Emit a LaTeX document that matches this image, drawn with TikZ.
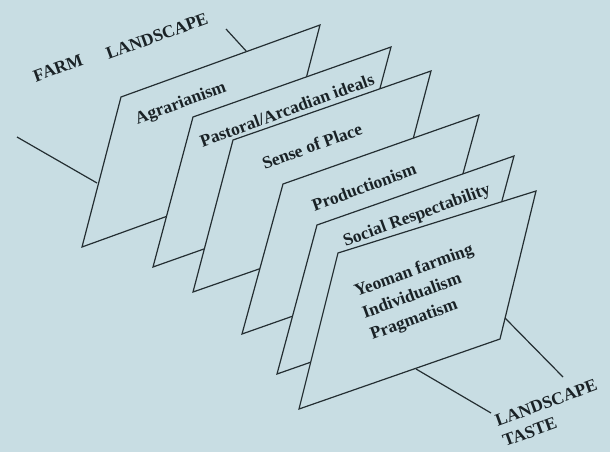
\documentclass[tikz,border=0pt]{standalone}
\usepackage{fontspec}
\setmainfont{Liberation Serif}
\definecolor{bgc}{RGB}{200,221,227}
\definecolor{inkc}{RGB}{36,46,50}
\definecolor{txtc}{RGB}{26,34,38}
\begin{document}
\begin{tikzpicture}[x=1pt,y=-1pt,
  panel/.style={draw=inkc,fill=bgc,line width=1.2pt},
  axisline/.style={draw=inkc,line width=1.2pt},
  lbl/.style={text=txtc,font=\bfseries\fontsize{17.5}{23}\selectfont,rotate=20,inner sep=0pt}]
\fill[bgc] (0,0) rectangle (610,452);
\useasboundingbox (0,0) rectangle (610,452);
% axis end points
\coordinate (a1) at (226,29);  \coordinate (a1e) at (247,52);
\coordinate (c1) at (17,137);  \coordinate (c1e) at (97,183);
% panel 1
\coordinate (p1a) at (121,97); \coordinate (p1b) at (320,25);
\coordinate (p1c) at (281,175); \coordinate (p1d) at (82,247);
\draw[axisline] (a1) -- (a1e);
\draw[axisline] (c1) -- (c1e);
\path[panel] (p1a) -- (p1b) -- (p1c) -- (p1d) -- cycle;
% panel 2
\coordinate (p2a) at (193,117); \coordinate (p2b) at (391,47);
\coordinate (p2c) at (351,197); \coordinate (p2d) at (153,267);
\path[panel] (p2a) -- (p2b) -- (p2c) -- (p2d) -- cycle;
% panel 3
\coordinate (p3a) at (233,140); \coordinate (p3b) at (431,71);
\coordinate (p3c) at (391,223); \coordinate (p3d) at (193,292);
\path[panel] (p3a) -- (p3b) -- (p3c) -- (p3d) -- cycle;
% panel 4
\coordinate (p4a) at (283,184); \coordinate (p4b) at (479,115);
\coordinate (p4c) at (438,265); \coordinate (p4d) at (242,334);
\path[panel] (p4a) -- (p4b) -- (p4c) -- (p4d) -- cycle;
% panel 5
\coordinate (p5a) at (317,225); \coordinate (p5b) at (514,156);
\coordinate (p5c) at (474,305); \coordinate (p5d) at (277,374);
\path[panel] (p5a) -- (p5b) -- (p5c) -- (p5d) -- cycle;
% panel 6
\coordinate (p6a) at (338,253); \coordinate (p6b) at (536,191);
\coordinate (p6c) at (500,339); \coordinate (p6d) at (299,409);
\path[panel] (p6a) -- (p6b) -- (p6c) -- (p6d) -- cycle;
% axis lines leaving the last panel
\coordinate (b1s) at (505,318); \coordinate (b1) at (563,377);
\coordinate (d1s) at (416,369); \coordinate (d1) at (491,413);
\draw[axisline] (b1s) -- (b1);
\draw[axisline] (d1s) -- (d1);
% labels
\node[lbl] (farm) at (58,68) {FARM};
\node[lbl] (lands) at (157,36) {LANDSCAPE};
\node[lbl] (agr) at (181,104) {Agrarianism};
\node[lbl] (past) at (287,110) {Pastoral/Arcadian ideals};
\node[lbl] (sense) at (312,146) {Sense of Place};
\node[lbl] (prod) at (364,187) {Productionism};
\node[lbl] (soc) at (417,216) {Social Respectability};
\node[lbl,align=left] (yeo) at (422,293) {Yeoman farming\\Individualism\\Pragmatism};
\node[lbl,align=left,font=\bfseries\fontsize{17.5}{22}\selectfont] (taste) at (550,413) {LANDSCAPE\\TASTE};
\end{tikzpicture}
\end{document}
